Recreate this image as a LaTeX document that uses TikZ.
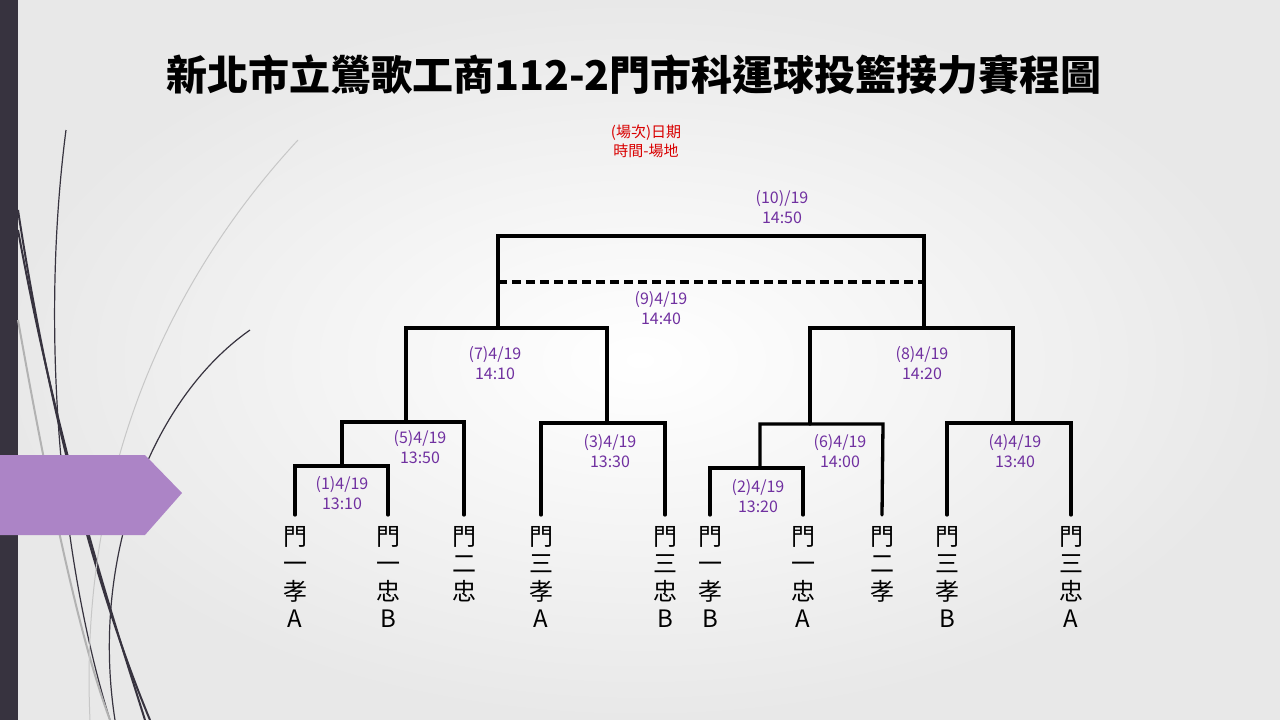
\documentclass[tikz,border=0pt]{standalone}
\usepackage{fontspec}
\setmainfont{Noto Sans CJK TC}
\begin{document}
\begin{tikzpicture}[x=1pt,y=-1pt,
  br/.style={line width=3.3pt,line cap=round},
  lab/.style={text=purp,font=\fontsize{16}{20}\selectfont,align=center,inner sep=0},
  leaf/.style={font=\fontsize{24}{27.5}\selectfont,align=center,inner sep=0,outer ysep=11pt,anchor=north}]
\definecolor{purp}{HTML}{7030A0}
\definecolor{darkbar}{HTML}{37333F}
\definecolor{arrowp}{HTML}{AC84C6}
\useasboundingbox (0,0) rectangle (1280,720);
\shade[inner color=white,outer color=black!9] (0,0) rectangle (1280,720);
\fill[darkbar] (0,0) rectangle (18,720);
% decorative curves
\draw[darkbar,line width=1.2pt] (66,130) .. controls (40,330) and (60,560) .. (110,720);
\draw[darkbar,line width=2pt] (18,210) .. controls (50,420) and (100,600) .. (150,720);
\draw[darkbar,line width=2pt] (18,230) .. controls (60,460) and (120,640) .. (145,720);
\draw[black!30,line width=2pt] (18,320) .. controls (50,500) and (80,640) .. (110,720);
\draw[black!22,line width=1pt] (298,140) .. controls (150,300) and (80,500) .. (90,720);
\draw[darkbar,line width=1.2pt] (250,330) .. controls (150,400) and (90,560) .. (115,720);
\fill[arrowp] (0,455) -- (145,455) -- (182,493) -- (145,535) -- (0,535) -- cycle;
% title
\node[font=\fontsize{41}{44}\selectfont\bfseries] (title) at (634,75) {新北市立鶯歌工商112-2門市科運球投籃接力賽程圖};
\node[text=red!85!black,font=\fontsize{15}{19}\selectfont,align=center] (legend) at (646,141) {(場次)日期\\時間-場地};
% leaves
\foreach \n/\x/\t in {l1/295/門\\一\\孝\\A, l2/388/門\\一\\忠\\B, l3/464/門\\二\\忠, l4/541/門\\三\\孝\\A, l5/665/門\\三\\忠\\B, l6/710/門\\一\\孝\\B, l7/803/門\\一\\忠\\A, l8/882/門\\二\\孝, l9/947/門\\三\\孝\\B, l10/1071/門\\三\\忠\\A}
  \node[leaf] (\n) at (\x,515) {\t};
% match coordinates
\coordinate (m1) at (342,466); \coordinate (m2) at (760,468);
\coordinate (m5) at (406,422); \coordinate (m3) at (607,423);
\coordinate (m6) at (810,424); \coordinate (m4) at (1013,423);
\coordinate (m7) at (498,328); \coordinate (m8) at (924,328);
% brackets
\draw[br] (l1.north) -- (295,466) -- (388,466) -- (l2.north);
\draw[br] (m1) -- (342,422) -- (464,422) -- (l3.north);
\draw[br] (l4.north) -- (541,423) -- (665,423) -- (l5.north);
\draw[br] (m5) -- (406,328) -- (607,328) -- (m3);
\draw[br] (l6.north) -- (710,468) -- (803,468) -- (l7.north);
\draw[br] (m2) -- (760,424) -- (883,424) -- (l8.north);
\draw[br] (l9.north) -- (947,423) -- (1071,423) -- (l10.north);
\draw[br] (m6) -- (810,328) -- (1013,328) -- (m4);
\draw[br] (m7) -- (498,236) -- (924,236) -- (m8);
\draw[line width=3.3pt,dash pattern=on 9pt off 5pt] (498,282) -- (924,282);
% labels
\node[lab] (t1) at (342,493) {(1)4/19\\13:10};
\node[lab] (t5) at (420,447) {(5)4/19\\13:50};
\node[lab] (t3) at (610,451) {(3)4/19\\13:30};
\node[lab] (t7) at (495,363) {(7)4/19\\14:10};
\node[lab] (t2) at (758,496) {(2)4/19\\13:20};
\node[lab] (t6) at (840,451) {(6)4/19\\14:00};
\node[lab] (t4) at (1015,451) {(4)4/19\\13:40};
\node[lab] (t8) at (922,363) {(8)4/19\\14:20};
\node[lab] (t9) at (661,308) {(9)4/19\\14:40};
\node[lab] (t10) at (782,207) {(10)/19\\14:50};
\end{tikzpicture}
\end{document}
